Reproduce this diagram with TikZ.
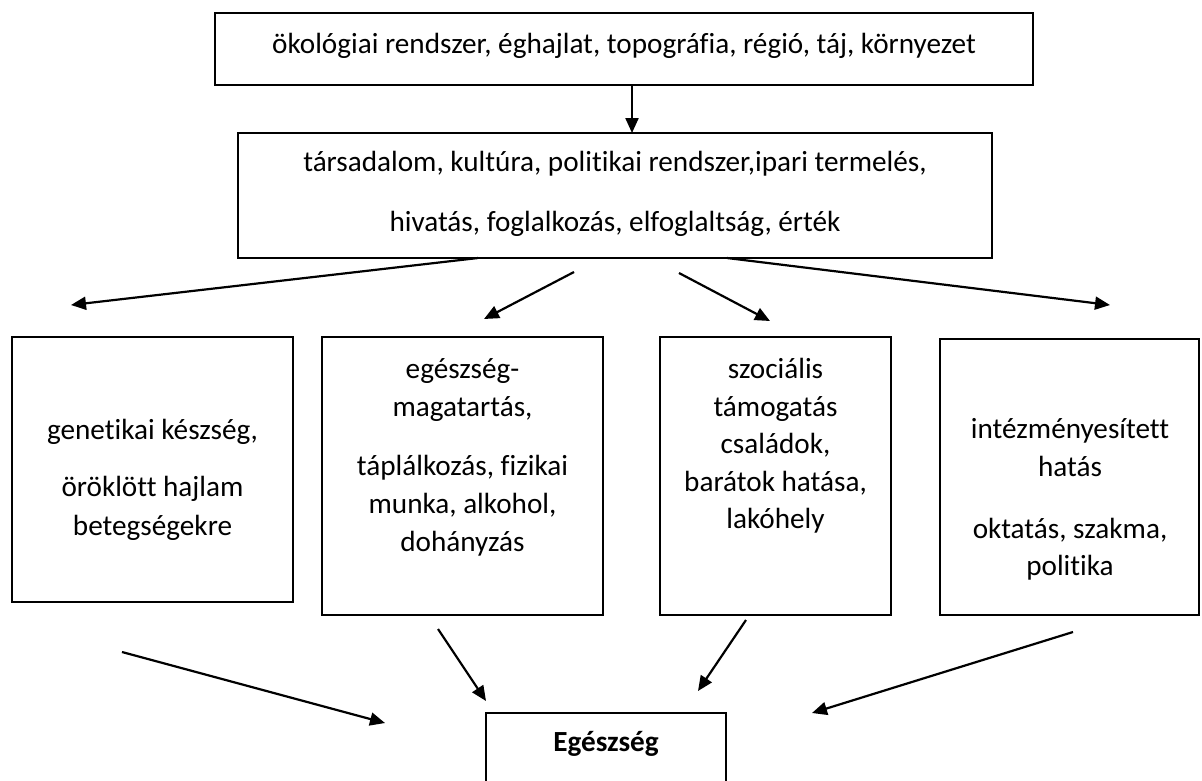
\documentclass[tikz,border=0pt]{standalone}
\usepackage{fontspec}
\setmainfont{Carlito}[Ligatures=NoCommon]
\usetikzlibrary{arrows.meta}
\tikzset{
  box/.style={draw=black, line width=1.6pt, anchor=north west, inner sep=0pt, outer sep=0pt},
  txt/.style={font=\fontsize{29.2}{36}\selectfont, anchor=base, inner sep=0pt},
  arr/.style={draw=black, line width=2.2pt, -{Triangle[length=15pt,width=13pt]}}
}
\begin{document}
\begin{tikzpicture}[x=1pt,y=-1pt]
\useasboundingbox (0,0) rectangle (1202,780);
\clip (0,0) rectangle (1202,780);
% boxes
\node[box, minimum width=818pt, minimum height=72pt] (top) at (215,13) {};
\node[box, minimum width=754pt, minimum height=125pt] (mid) at (238,133) {};
\node[box, minimum width=281pt, minimum height=265pt] (b1) at (12,337) {};
\node[box, minimum width=281pt, minimum height=278pt] (b2) at (322,337) {};
\node[box, minimum width=231pt, minimum height=278pt] (b3) at (660,337) {};
\node[box, minimum width=259pt, minimum height=276pt] (b4) at (940,339) {};
\node[box, minimum width=240pt, minimum height=100pt] (bot) at (486,713) {};
% texts
\node[txt] (t0) at (624,53) {ökológiai rendszer, éghajlat, topográfia, régió, táj, környezet};
\node[txt] (m1) at (615,171) {társadalom, kultúra, politikai rendszer,ipari termelés,};
\node[txt] (m2) at (615,231) {hivatás, foglalkozás, elfoglaltság, érték};
\node[txt] (g1) at (152.5,439) {genetikai készség,};
\node[txt] (g2) at (152.5,496) {öröklött hajlam};
\node[txt] (g3) at (152.5,535) {betegségekre};
\node[txt] (e1) at (462.5,378) {egészség-};
\node[txt] (e2) at (462.5,416) {magatartás,};
\node[txt] (e3) at (462.5,475) {táplálkozás, fizikai};
\node[txt] (e4) at (462.5,513) {munka, alkohol,};
\node[txt] (e5) at (462.5,551) {dohányzás};
\node[txt] (s1) at (775.5,378) {szociális};
\node[txt] (s2) at (775.5,416) {támogatás};
\node[txt] (s3) at (775.5,453) {családok,};
\node[txt] (s4) at (775.5,491) {barátok hatása,};
\node[txt] (s5) at (775.5,528) {lakóhely};
\node[txt] (i1) at (1070,438) {intézményesített};
\node[txt] (i2) at (1070,476) {hatás};
\node[txt] (i3) at (1070,538) {oktatás, szakma,};
\node[txt] (i4) at (1070,575) {politika};
\node[txt, font=\fontsize{29.2}{36}\selectfont\bfseries] (h) at (606,751) {Egészség};
% arrow end points
\coordinate (a0s) at (632,85);   \coordinate (a0e) at (632,133);
\coordinate (a1s) at (478,258);  \coordinate (a1e) at (71,305);
\coordinate (a2s) at (574,272);  \coordinate (a2e) at (484,319);
\coordinate (a3s) at (679,273);  \coordinate (a3e) at (770,321);
\coordinate (a4s) at (727,258);  \coordinate (a4e) at (1110,305);
\coordinate (a5s) at (122,652);  \coordinate (a5e) at (385,723);
\coordinate (a6s) at (438,629);  \coordinate (a6e) at (486,701);
\coordinate (a7s) at (746,620);  \coordinate (a7e) at (698,691);
\coordinate (a8s) at (1073,632); \coordinate (a8e) at (812,713);
\draw[arr] (a0s) -- (a0e);
\draw[arr] (a1s) -- (a1e);
\draw[arr] (a2s) -- (a2e);
\draw[arr] (a3s) -- (a3e);
\draw[arr] (a4s) -- (a4e);
\draw[arr] (a5s) -- (a5e);
\draw[arr] (a6s) -- (a6e);
\draw[arr] (a7s) -- (a7e);
\draw[arr] (a8s) -- (a8e);
\end{tikzpicture}
\end{document}
